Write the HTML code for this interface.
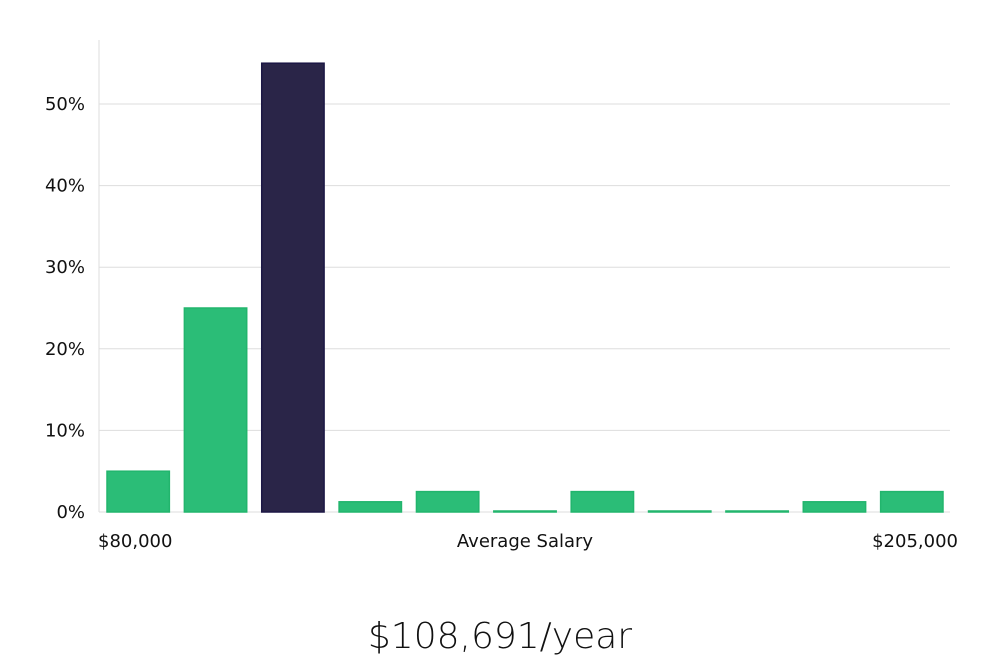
<!DOCTYPE html>
<html><head><meta charset="utf-8"><style>
html,body{margin:0;padding:0;background:#fff;width:1000px;height:660px;overflow:hidden}
svg text{font-family:"DejaVu Sans","Liberation Sans",sans-serif}
</style></head><body>
<svg id="chart" width="1000" height="660" xmlns="http://www.w3.org/2000/svg">
<g id="grid"></g><g id="bars"></g><g id="labels"></g>
<text x="98" y="547" font-size="18" fill="#111">$80,000</text>
<text x="525" y="547" font-size="18" fill="#111" text-anchor="middle">Average Salary</text>
<text x="958" y="547" font-size="18" fill="#111" text-anchor="end">$205,000</text>
<text x="500" y="648" font-size="36" fill="#111" text-anchor="middle" font-family="Liberation Sans, sans-serif" font-weight="300">$108,691/year</text>
</svg>
<script>
const values=[5,25,55,1.25,2.5,0.1,2.5,0.1,0.1,1.25,2.5];
const highlight=[false,false,true,false,false,false,false,false,false,false,false];
const ticks=[0,10,20,30,40,50];
const tickLabels=["0%","10%","20%","30%","40%","50%"];
const NS="http://www.w3.org/2000/svg";
const x0=99,x1=950,yZero=512,pxPer=8.16;
const y=v=>yZero-v*pxPer;
const step=(x1-x0)/values.length;
const grid=document.getElementById('grid');
const axis=document.createElementNS(NS,'line');


axis.setAttribute('x1',x0);axis.setAttribute('x2',x0);axis.setAttribute('y1',40);axis.setAttribute('y2',yZero);
axis.setAttribute('stroke','#ddd');grid.appendChild(axis);
ticks.forEach((t,i)=>{
 const l=document.createElementNS(NS,'line');
 
 
 l.setAttribute('x1',x0);l.setAttribute('x2',x1);l.setAttribute('y1',y(t));l.setAttribute('y2',y(t));
 l.setAttribute('stroke','#ddd');grid.appendChild(l);
 const tx=document.createElementNS(NS,'text');
 
 
 tx.setAttribute('x',85);tx.setAttribute('y',y(t)+6);tx.setAttribute('text-anchor','end');
 tx.setAttribute('font-size','18');tx.setAttribute('fill','#111');tx.textContent=tickLabels[i];
 document.getElementById('labels').appendChild(tx);
});
const bars=document.getElementById('bars');
values.forEach((v,i)=>{
 const r=document.createElementNS(NS,'rect');
 
 
 const bx=x0+i*step+8, bw=step-15;
 const h=Math.max(v*pxPer,1);
 r.setAttribute('x',bx);r.setAttribute('y',yZero-h);r.setAttribute('width',bw);r.setAttribute('height',h);
 r.setAttribute('fill',highlight[i]?'#2a2548':'#2bbd77');
 r.setAttribute('stroke',highlight[i]?'#1c1745':'#22b56d');
 r.setAttribute('stroke-width','1.5');
 bars.appendChild(r);
});
</script>
</body></html>
